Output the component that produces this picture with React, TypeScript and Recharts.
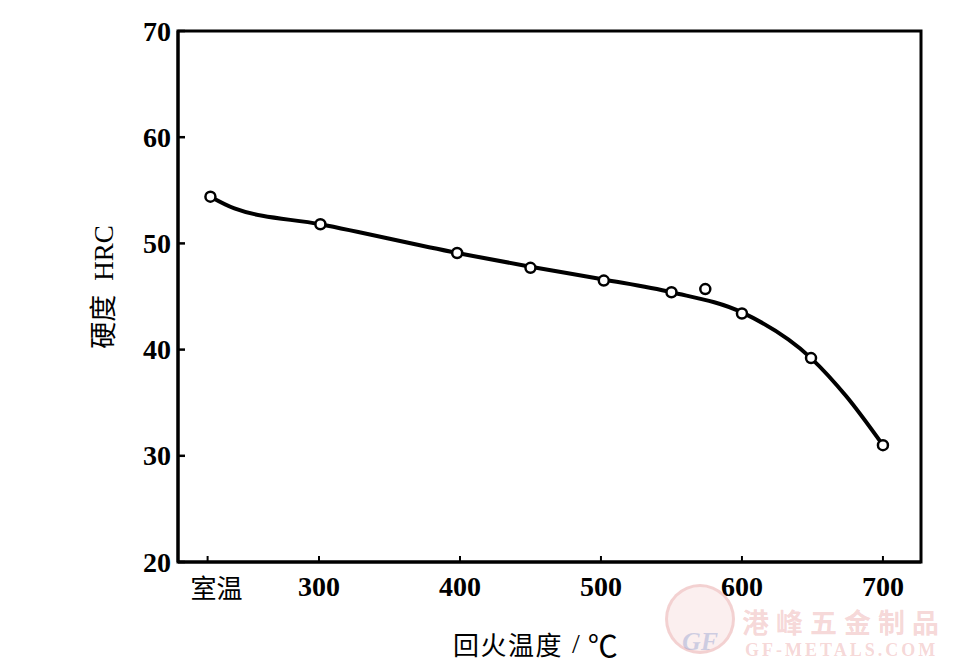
import React from 'react';
import {
  ComposedChart,
  Line,
  Scatter,
  XAxis,
  YAxis,
  ReferenceArea,
} from 'recharts';

// ---- data ----
const xTickValues = [221, 300, 400, 500, 600, 700];
const xTickLabels = ['室温', '300', '400', '500', '600', '700'];
const yTickValues = [20, 30, 40, 50, 60, 70];

const measuredTemps = [223, 301, 398, 450, 502, 550, 574, 600, 649, 700];
const measuredHRC = [54.4, 51.8, 49.1, 47.7, 46.5, 45.4, 45.7, 43.4, 39.2, 31.0];

// values
const curveTemps = [223, 240, 301, 398, 450, 502, 550, 600, 649, 674, 700];
const curveHRC = [54.4, 53.3, 51.8, 49.1, 47.8, 46.6, 45.4, 43.5, 39.2, 35.6, 31.0];

const pointData = measuredTemps.map((t, i) => ({ t, hrc: measuredHRC[i] }));
const curveData = curveTemps.map((t, i) => ({ t, hrc: curveHRC[i] }));

const SERIF = '"Liberation Serif", "DejaVu Serif", serif';
const CJK = '"Noto Sans CJK SC", "Liberation Serif", serif';

const YTick = (props: any) => {
  const { x, y, payload } = props;
  const axisX = x + 7;
  return (
    <g>
      <text
        x={x}
        y={y}
        textAnchor="end"
        dominantBaseline="central"
        fontFamily={SERIF}
        fontWeight="bold"
        fontSize={28}
        fill="#000"
      >
        {payload.value}
      </text>
      <line x1={axisX} x2={axisX + 7} y1={y} y2={y} stroke="#000" strokeWidth={2.5} />
    </g>
  );
};

const XTick = (props: any) => {
  const { x, y, payload, index } = props;
  const label = xTickLabels[xTickValues.indexOf(payload.value)] ?? String(payload.value);
  const isCJK = index === 0;
  return (
    <g>
      <line x1={x} x2={x} y1={y} y2={y - 6} stroke="#000" strokeWidth={2} />
      <text
        x={x + (isCJK ? 9 : 0)}
        y={y + 24}
        textAnchor="middle"
        dominantBaseline="central"
        fontFamily={isCJK ? CJK : SERIF}
        fontWeight={isCJK ? 'normal' : 'bold'}
        fontSize={isCJK ? 26 : 28}
        fill="#000"
      >
        {label}
      </text>
    </g>
  );
};

const Dot = (props: any) => {
  const { cx, cy } = props;
  return <circle cx={cx} cy={cy} r={5} fill="#fff" stroke="#000" strokeWidth={2.5} />;
};

export default function App() {
  return (
    <div style={{ position: 'relative', width: 962, height: 652, background: '#fff' }}>
      <ComposedChart
        width={962}
        height={652}
        margin={{ top: 23, right: 49, left: 110, bottom: 48 }}
      >
        <XAxis
          type="number"
          dataKey="t"
          domain={[200, 727]}
          ticks={xTickValues}
          allowDataOverflow
          height={50}
          tickSize={0}
          tickMargin={0}
          tick={<XTick />}
          axisLine={{ stroke: '#000', strokeWidth: 3 }}
          tickLine={false}
        />
        <YAxis
          type="number"
          dataKey="hrc"
          domain={[20, 70]}
          ticks={yTickValues}
          allowDataOverflow
          width={60}
          tickSize={0}
          tickMargin={7}
          tick={<YTick />}
          axisLine={{ stroke: '#000', strokeWidth: 3 }}
          tickLine={false}
        />
        <ReferenceArea
          x1={200}
          x2={727}
          y1={20}
          y2={70}
          fill="none"
          fillOpacity={0}
          stroke="#000"
          strokeWidth={3}
          ifOverflow="visible"
        />
        <Line
          data={curveData}
          dataKey="hrc"
          type="monotone"
          stroke="#000"
          strokeWidth={4}
          dot={false}
          activeDot={false}
          isAnimationActive={false}
        />
        <Scatter
          data={pointData}
          dataKey="hrc"
          shape={<Dot />}
          isAnimationActive={false}
        />
      </ComposedChart>
      {/* axis titles */}
      <div
        style={{
          position: 'absolute',
          left: 95,
          top: 279,
          transform: 'translate(-50%, -50%) rotate(-90deg)',
          whiteSpace: 'nowrap',
          fontSize: 27,
          color: '#000',
          lineHeight: 1,
        }}
      >
        <span style={{ fontFamily: CJK }}>硬度</span>
        <span style={{ fontFamily: SERIF, marginLeft: 14 }}>HRC</span>
      </div>
      <div
        style={{
          position: 'absolute',
          left: 445,
          top: 621,
          whiteSpace: 'nowrap',
          fontSize: 26,
          color: '#000',
          lineHeight: 1,
          fontFamily: CJK,
          display: 'flex',
          alignItems: 'center',
        }}
      >
        <span style={{ letterSpacing: 1.5 }}>回火温度</span>
        <span style={{ fontFamily: SERIF, fontSize: 28, margin: '0 8px 0 9px' }}>/</span>
        <span style={{ fontFamily: CJK, fontSize: 30 }}>℃</span>
      </div>
      {/* watermark */}
      <div
        style={{
          position: 'absolute',
          left: 657,
          top: 576,
          width: 70,
          height: 70,
          borderRadius: '50%',
          border: '3px solid rgba(220,120,120,0.25)',
          background: 'rgba(230,150,150,0.15)',
          color: 'rgba(120,140,200,0.35)',
          fontFamily: SERIF,
          fontStyle: 'italic',
          fontWeight: 'bold',
          fontSize: 26,
          textAlign: 'center',
          lineHeight: '110px',
          boxSizing: 'border-box',
        }}
      >
        GF
      </div>
      <div
        style={{
          position: 'absolute',
          left: 734,
          top: 600,
          fontFamily: CJK,
          fontWeight: 'bold',
          fontSize: 27,
          letterSpacing: 7,
          color: 'rgba(225,120,120,0.3)',
          lineHeight: 1,
          whiteSpace: 'nowrap',
        }}
      >
        港峰五金制品
      </div>
      <div
        style={{
          position: 'absolute',
          left: 737,
          top: 633,
          fontFamily: SERIF,
          fontWeight: 'bold',
          fontSize: 18,
          letterSpacing: 3,
          color: 'rgba(225,120,120,0.3)',
          lineHeight: 1,
          whiteSpace: 'nowrap',
        }}
      >
        GF-METALS.COM
      </div>
    </div>
  );
}
